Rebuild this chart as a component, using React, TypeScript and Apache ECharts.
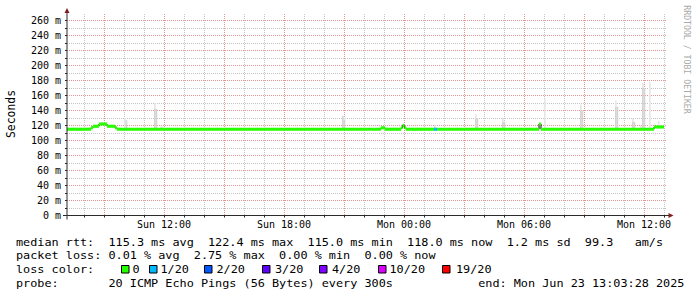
import React, { useEffect, useRef } from 'react';
import * as echarts from 'echarts';

// ---- time axis (hours since Sun 00:00) ----
const START_HOUR = 7.15;
const END_HOUR = 37.15;
const STEP_HOURS = 1 / 12; // 300 s step

const xMinorHours = [8, 10, 11, 13, 14, 16, 17, 19, 20, 22, 23, 25, 26, 28, 29, 31, 32, 34, 35, 37];
const xMajorHours = [9, 12, 15, 18, 21, 24, 27, 30, 33, 36];
const xTickHours = [8, 9, 10, 11, 12, 13, 14, 15, 16, 17, 18, 19, 20, 21, 22, 23, 24, 25, 26, 27, 28, 29, 30, 31, 32, 33, 34, 35, 36, 37];
const xLabelHours = [12, 18, 24, 30, 36];
const xLabelTexts = ['Sun 12:00', 'Sun 18:00', 'Mon 00:00', 'Mon 06:00', 'Mon 12:00'];

// ---- value axis (ms) ----
const Y_MAX = 270;
const yMinorValues = [10, 30, 50, 70, 90, 110, 130, 150, 170, 190, 210, 230, 250];
const yMajorValues = [20, 40, 60, 80, 100, 120, 140, 160, 180, 200, 220, 240, 260];
const yTickValues = [0, 10, 20, 30, 40, 50, 60, 70, 80, 90, 100, 110, 120, 130, 140, 150, 160, 170, 180, 190, 200, 210, 220, 230, 240, 250, 260];
const yLabelValues = [0, 20, 40, 60, 80, 100, 120, 140, 160, 180, 200, 220, 240, 260];

// ---- median rtt (step segments) ----
const medianStartHours = [7.15, 8.35, 8.45, 8.75, 9.15, 9.55, 9.65, 22.85, 23.05, 23.85, 23.93, 24.02, 24.1, 25.5, 25.65, 30.75, 30.85, 36.5];
const medianValues = [115, 117, 119, 122, 119, 117, 115, 117, 115, 117, 120, 117, 115, 115, 115, 122, 115, 118];
const medianLossIdx = [0, 0, 0, 0, 0, 0, 0, 0, 0, 0, 0, 0, 0, 1, 0, 0, 0, 0];
const MEDIAN_END_HOUR = 37.0;

// ---- smoke (ping spread) ----
const smokeHours = [10.0, 10.08, 11.5, 11.58, 11.8, 11.88, 20.9, 20.98, 25.5, 27.55, 27.63, 28.9, 28.98, 31.0, 32.8, 32.88, 34.55, 34.63, 35.4, 35.48, 35.8, 35.9, 35.98, 36.25, 36.7];
const smokeLow = [115, 115, 115, 115, 115, 115, 115, 115, 115, 115, 115, 115, 115, 115, 115, 115, 115, 115, 115, 115, 115, 115, 115, 115, 118];
const smokeDarkTop = [115, 127, 142, 142, 115, 115, 133, 128, 115, 130, 130, 125, 125, 115, 140, 140, 145, 145, 125, 125, 115, 170, 170, 115, 118];
const smokeLightTop = [130, 127, 150, 142, 119, 119, 133, 130, 121, 135, 130, 130, 125, 155, 148, 140, 153, 145, 129, 125, 120, 177, 170, 178, 126];

// ---- legend contents ----
const rttStats = ['115.3 ms avg', '122.4 ms max', '115.0 ms min', '118.0 ms now', '1.2 ms sd', '99.3   am/s'];
const lossStats = ['0.01 % avg', '2.75 % max', '0.00 % min', '0.00 % now'];
const lossLabels = ['0', '1/20', '2/20', '3/20', '4/20', '10/20', '19/20'];
const lossColors = ['#26ff00', '#00b8ff', '#0059ff', '#5e00ff', '#7e00ff', '#dd00ff', '#ff0000'];
const probeText = '20 ICMP Echo Pings (56 Bytes) every 300s';
const endText = 'end: Mon Jun 23 13:03:28 2025';
const yAxisName = 'Seconds';
const watermark = 'RRDTOOL / TOBI OETIKER';

// ---- layout ----
const lossBoxX = [121, 149, 204, 262, 319, 378, 442];
const lossLabelX = [132.5, 160.5, 216.5, 275, 332, 389.5, 456];
const MONO = "'DejaVu Sans Mono', monospace";
const GRID = '#c4c4c4';
const MGRID = '#e69393';
const AXIS = '#2a2a2a';
const ARROW = '#7f1f1f';
const SMOKE_DARK = '#d4d4d4';
const SMOKE_LIGHT = '#e6e6e6';
const BAND_HALF = 2.1;

function gridSeries(name: string, vertical: number[], horizontal: number[], color: string, z: number) {
  const items = [...vertical.map((h) => [h, 0]), ...horizontal.map((v) => [START_HOUR, v])];
  const nV = vertical.length;
  return {
    type: 'custom',
    name,
    silent: true,
    z,
    data: items,
    renderItem: (params: any, api: any) => {
      const idx = params.dataIndex;
      const style = { stroke: color, fill: null, lineWidth: 1, lineDash: [1, 1] };
      if (idx < nV) {
        const h = vertical[idx];
        const a = api.coord([h, 0]);
        const b = api.coord([h, Y_MAX]);
        const x = Math.floor(a[0]) + 0.5;
        return { type: 'line', shape: { x1: x, y1: Math.floor(a[1]), x2: x, y2: Math.round(b[1]) }, style };
      }
      const v = horizontal[idx - nV];
      const a = api.coord([START_HOUR, v]);
      const b = api.coord([END_HOUR, v]);
      const y = Math.floor(a[1]) + 0.5;
      return { type: 'line', shape: { x1: Math.round(a[0]), y1: y, x2: Math.round(b[0]), y2: y }, style };
    },
  };
}

export default function App() {
  const ref = useRef<HTMLDivElement>(null);

  useEffect(() => {
    if (!ref.current) return;
    const chart = echarts.init(ref.current, undefined, { renderer: 'svg' });

    const bandData = medianStartHours.map((h, i) => [
      h,
      i + 1 < medianStartHours.length ? medianStartHours[i + 1] : MEDIAN_END_HOUR,
      medianValues[i],
      medianLossIdx[i],
    ]);
    const lineData = medianStartHours.map((h, i) => [h, medianValues[i]]);
    lineData.push([MEDIAN_END_HOUR, medianValues[medianValues.length - 1]]);
    const smokeData = smokeHours.map((h, i) => [h, smokeLow[i], smokeDarkTop[i], smokeLightTop[i]]);

    const colW = 7.12;
    const fs = 11;
    const sx = colW / (fs * 0.602);
    const legendText = (text: string, x: number, y: number) => ({
      type: 'text',
      x,
      y,
      scaleX: sx,
      silent: true,
      style: {
        text,
        fontFamily: MONO,
        fontSize: fs,
        fill: '#000',
        align: 'left',
        verticalAlign: 'middle',
        textAlign: 'left',
        textVerticalAlign: 'middle',
      },
    });

    const graphics: any[] = [
      { type: 'line', silent: true, z: 50, shape: { x1: 67, y1: 219.5, x2: 67, y2: 10 }, style: { stroke: AXIS, lineWidth: 1 } },
      { type: 'line', silent: true, z: 50, shape: { x1: 63, y1: 215.5, x2: 670, y2: 215.5 }, style: { stroke: AXIS, lineWidth: 1 } },
      { type: 'polygon', silent: true, z: 51, shape: { points: [[64.5, 13], [69.5, 13], [67, 8]] }, style: { fill: ARROW } },
      { type: 'polygon', silent: true, z: 51, shape: { points: [[668.5, 213], [668.5, 218], [673.5, 215.5]] }, style: { fill: ARROW } },
      {
        type: 'text', x: 11, y: 114, rotation: Math.PI / 2, silent: true,
        style: { text: yAxisName, fontFamily: MONO, fontSize: 11.4, fill: '#000', align: 'center', verticalAlign: 'middle', textAlign: 'center', textVerticalAlign: 'middle' },
      },
      {
        type: 'text', x: 687, y: 59.5, rotation: -Math.PI / 2, silent: true,
        style: { text: watermark, fontFamily: MONO, fontSize: 8.2, fill: '#aaaaaa', align: 'center', verticalAlign: 'middle', textAlign: 'center', textVerticalAlign: 'middle' },
      },
      legendText('median rtt:  ' + rttStats.join('  '), 16, 241.7),
      legendText('packet loss: ' + lossStats.join('  '), 16, 255),
      legendText('loss color:', 16, 269.3),
      legendText('probe:       ' + probeText + '            ' + endText, 16, 283.5),
    ];
    lossLabels.forEach((lab, i) => {
      graphics.push({
        type: 'rect', silent: true,
        shape: { x: lossBoxX[i] + 0.5, y: 265.5, width: 7.5, height: 7.5 },
        style: { fill: lossColors[i], stroke: '#000', lineWidth: 1 },
      });
      graphics.push(legendText(lab, lossLabelX[i], 269.3));
    });

    chart.setOption({
      animation: false,
      backgroundColor: '#ffffff',
      grid: { left: 67, right: 30, top: 13, bottom: 81.5, containLabel: false, outerBoundsMode: 'none' },
      xAxis: {
        type: 'value',
        min: START_HOUR,
        max: END_HOUR,
        axisLine: { show: false },
        axisTick: { show: true, customValues: xTickHours, length: 2, lineStyle: { color: AXIS } },
        axisLabel: {
          customValues: xLabelHours,
          formatter: (v: number) => xLabelTexts[xLabelHours.indexOf(Math.round(v))] ?? '',
          fontFamily: MONO,
          fontSize: 10,
          color: '#000',
          margin: 4,
        },
        splitLine: { show: false },
      },
      yAxis: {
        type: 'value',
        min: 0,
        max: Y_MAX,
        axisLine: { show: false },
        axisTick: { show: true, customValues: yTickValues, length: 2, lineStyle: { color: AXIS } },
        axisLabel: {
          customValues: yLabelValues,
          formatter: (v: number) => `${v} m`,
          fontFamily: MONO,
          fontSize: 10,
          color: '#000',
          margin: 6,
        },
        splitLine: { show: false },
      },
      series: [
        gridSeries('minor grid', xMinorHours, yMinorValues, GRID, 0),
        gridSeries('major grid', xMajorHours, yMajorValues, MGRID, 0),
        {
          type: 'custom',
          name: 'smoke',
          silent: true,
          z: 1,
          data: smokeData,
          renderItem: (_p: any, api: any) => {
            const h = api.value(0);
            const lo = api.value(1);
            const mid = api.value(2);
            const hi = api.value(3);
            const a = api.coord([h, lo]);
            const b = api.coord([h + STEP_HOURS, mid]);
            const c = api.coord([h + STEP_HOURS, hi]);
            const children: any[] = [];
            if (mid > lo) children.push({ type: 'rect', shape: { x: a[0], y: b[1], width: b[0] - a[0], height: a[1] - b[1] }, style: { fill: SMOKE_DARK } });
            if (hi > mid) children.push({ type: 'rect', shape: { x: a[0], y: c[1], width: c[0] - a[0], height: b[1] - c[1] }, style: { fill: SMOKE_LIGHT } });
            return { type: 'group', children };
          },
        },
        {
          type: 'line',
          name: 'median line',
          silent: true,
          z: 2,
          step: 'end',
          showSymbol: false,
          data: lineData,
          lineStyle: { color: '#000', width: 1 },
        },
        {
          type: 'custom',
          name: 'median rtt',
          silent: true,
          z: 3,
          data: bandData,
          renderItem: (params: any, api: any) => {
            const item = bandData[params.dataIndex];
            const a = api.coord([item[0], item[2] + BAND_HALF]);
            const b = api.coord([item[1], item[2] - BAND_HALF]);
            return { type: 'rect', shape: { x: a[0], y: a[1], width: b[0] - a[0], height: b[1] - a[1] }, style: { fill: lossColors[item[3]] } };
          },
        },
      ],
      graphic: graphics,
    });

    return () => chart.dispose();
  }, []);

  return (
    <div
      ref={ref}
      style={{ position: 'fixed', left: 0, top: 0, width: 697, height: 297, background: '#fff' }}
    />
  );
}
